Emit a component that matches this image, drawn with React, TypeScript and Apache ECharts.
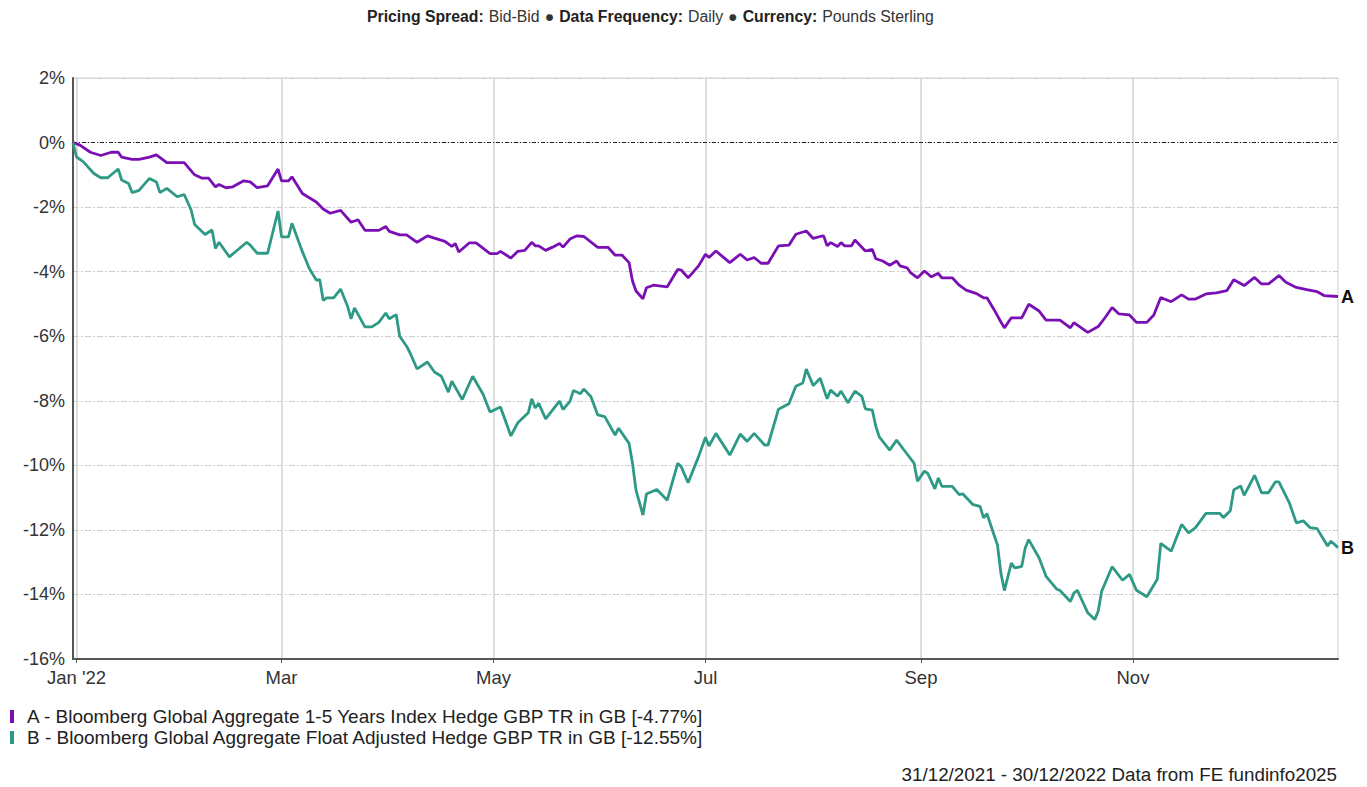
import React, { useEffect, useRef } from "react";
import * as echarts from "echarts";

// Day offsets counted from 31/12/2021, cumulative performance in %
const seriesAName = "A - Bloomberg Global Aggregate 1-5 Years Index Hedge GBP TR in GB [-4.77%]";
const seriesBName = "B - Bloomberg Global Aggregate Float Adjusted Hedge GBP TR in GB [-12.55%]";

const seriesA: Array<[number, number]> = [
  [0, 0], [2, -0.08], [5, -0.3], [8, -0.4], [11, -0.3], [13, -0.3], [14, -0.45], [17, -0.52], [19, -0.52],
  [22, -0.45], [24, -0.38], [27, -0.62], [32, -0.62], [35, -1.0], [37, -1.1], [39, -1.1], [41, -1.37],
  [42, -1.3], [44, -1.4], [46, -1.37], [49, -1.19], [51, -1.22], [53, -1.4], [56, -1.34], [59, -0.82],
  [60, -1.19], [62, -1.19], [63, -1.06], [66, -1.58], [70, -1.84], [72, -2.06], [74, -2.19], [77, -2.1],
  [80, -2.47], [82, -2.39], [84, -2.72], [88, -2.72], [90, -2.6], [91, -2.75], [94, -2.86], [96, -2.86],
  [99, -3.09], [102, -2.89], [104, -2.96], [107, -3.06], [109, -3.22], [110, -3.13], [111, -3.39],
  [114, -3.11], [116, -3.11], [120, -3.44], [122, -3.44], [123, -3.37], [126, -3.58], [128, -3.37],
  [130, -3.34], [132, -3.09], [133, -3.2], [134, -3.2], [136, -3.34], [138, -3.24], [140, -3.13],
  [141, -3.24], [143, -2.99], [145, -2.89], [147, -2.91], [151, -3.25], [154, -3.25], [156, -3.49],
  [158, -3.49], [160, -3.72], [161, -4.29], [162, -4.6], [164, -4.84], [165, -4.5], [167, -4.42],
  [171, -4.47], [174, -3.93], [175, -3.95], [177, -4.19], [180, -3.82], [182, -3.46], [183, -3.56],
  [185, -3.36], [189, -3.72], [192, -3.46], [194, -3.64], [196, -3.56], [198, -3.74], [200, -3.74],
  [203, -3.2], [206, -3.18], [208, -2.84], [211, -2.74], [213, -2.97], [215, -2.91], [216, -2.89],
  [217, -3.2], [218, -3.1], [220, -3.22], [221, -3.1], [222, -3.2], [224, -3.2], [225, -3.02],
  [228, -3.36], [230, -3.31], [231, -3.6], [233, -3.67], [235, -3.8], [237, -3.67], [238, -3.82],
  [240, -3.88], [241, -4.03], [243, -4.19], [245, -3.98], [247, -4.16], [249, -4.05], [250, -4.19],
  [253, -4.19], [255, -4.42], [257, -4.57], [260, -4.68], [262, -4.81], [263, -4.81], [265, -5.17],
  [267, -5.56], [268, -5.74], [270, -5.43], [273, -5.43], [275, -5.01], [278, -5.22], [280, -5.5],
  [284, -5.5], [287, -5.74], [288, -5.58], [292, -5.88], [295, -5.7], [297, -5.42], [299, -5.11],
  [301, -5.31], [304, -5.34], [306, -5.57], [309, -5.57], [311, -5.34], [313, -4.8], [316, -4.93],
  [319, -4.72], [321, -4.85], [323, -4.85], [326, -4.69], [329, -4.66], [332, -4.59], [334, -4.25],
  [337, -4.43], [340, -4.18], [342, -4.38], [344, -4.38], [347, -4.12], [349, -4.33], [352, -4.49],
  [355, -4.56], [358, -4.62], [360, -4.74], [364, -4.77],
];

const seriesB: Array<[number, number]> = [
  [0, 0], [1, -0.44], [3, -0.6], [6, -0.96], [8, -1.09], [10, -1.09], [13, -0.82], [14, -1.16], [16, -1.27],
  [17, -1.55], [19, -1.48], [22, -1.11], [24, -1.22], [25, -1.55], [27, -1.42], [30, -1.68], [32, -1.61],
  [34, -2.09], [35, -2.54], [38, -2.85], [40, -2.71], [41, -3.28], [42, -3.09], [45, -3.54], [50, -3.09],
  [51, -3.18], [53, -3.43], [56, -3.43], [59, -2.12], [60, -2.92], [62, -2.92], [63, -2.5], [66, -3.38],
  [68, -3.9], [70, -4.26], [71, -4.25], [72, -4.89], [73, -4.81], [75, -4.81], [77, -4.54], [79, -5.07],
  [80, -5.46], [81, -5.12], [84, -5.71], [86, -5.71], [88, -5.57], [90, -5.28], [91, -5.46], [93, -5.33],
  [94, -6.0], [96, -6.31], [97, -6.52], [99, -7.01], [102, -6.8], [104, -7.11], [106, -7.24], [108, -7.73],
  [109, -7.39], [112, -7.96], [115, -7.24], [118, -7.8], [120, -8.35], [123, -8.19], [126, -9.09],
  [128, -8.68], [131, -8.37], [132, -7.94], [133, -8.22], [134, -8.08], [136, -8.56], [140, -8.01],
  [141, -8.27], [143, -8.02], [144, -7.68], [146, -7.78], [147, -7.64], [149, -7.87], [151, -8.44],
  [153, -8.49], [156, -9.06], [157, -8.85], [160, -9.32], [161, -9.94], [162, -10.77], [164, -11.54],
  [165, -10.89], [168, -10.75], [171, -11.08], [174, -9.94], [175, -10.04], [177, -10.54], [180, -9.73],
  [182, -9.13], [183, -9.4], [185, -9.01], [189, -9.68], [192, -9.03], [194, -9.26], [196, -9.01],
  [199, -9.37], [200, -9.37], [203, -8.26], [206, -8.09], [208, -7.55], [210, -7.45], [211, -7.02],
  [213, -7.53], [215, -7.3], [217, -7.94], [218, -7.67], [220, -7.86], [221, -7.7], [223, -8.06],
  [225, -7.7], [227, -7.86], [228, -8.25], [230, -8.29], [231, -8.79], [232, -9.12], [235, -9.53],
  [237, -9.22], [239, -9.51], [242, -9.93], [243, -10.49], [245, -10.18], [246, -10.26], [248, -10.73],
  [249, -10.39], [250, -10.65], [253, -10.65], [255, -10.91], [256, -10.88], [259, -11.22], [261, -11.27],
  [262, -11.63], [263, -11.5], [265, -12.15], [266, -12.46], [267, -13.34], [268, -13.88], [270, -13.03],
  [271, -13.18], [273, -13.13], [274, -12.56], [275, -12.3], [278, -12.87], [280, -13.44], [283, -13.83],
  [284, -13.88], [287, -14.22], [288, -13.96], [289, -13.87], [292, -14.57], [294, -14.78], [295, -14.52],
  [296, -13.9], [299, -13.14], [302, -13.56], [304, -13.38], [306, -13.87], [309, -14.07], [312, -13.53],
  [313, -12.42], [316, -12.66], [319, -11.83], [321, -12.09], [323, -11.93], [326, -11.49], [330, -11.49],
  [331, -11.62], [333, -11.41], [334, -10.76], [336, -10.64], [337, -10.93], [340, -10.31], [342, -10.85],
  [344, -10.85], [346, -10.51], [347, -10.51], [350, -11.16], [352, -11.78], [354, -11.72], [356, -11.93],
  [358, -11.96], [361, -12.5], [362, -12.35], [364, -12.55],
];

const tickDates = ["2022-01-01", "2022-03-01", "2022-05-01", "2022-07-01", "2022-09-01", "2022-11-01"];
const tickLabels = ["Jan '22", "Mar", "May", "Jul", "Sep", "Nov"];
const startDate = "2021-12-31";
const endDate = "2022-12-30";
const yTicks = { min: -16, max: 2, interval: 2 };

const titleParts = [
  ["Pricing Spread:", "Bid-Bid"],
  ["Data Frequency:", "Daily"],
  ["Currency:", "Pounds Sterling"],
];
const footerText = "31/12/2021 - 30/12/2022 Data from FE fundinfo2025";

const colorA = "#7a0fb4";
const colorB = "#2e9a86";
const FONT = 'Arial, "Liberation Sans", sans-serif';

const toTs = (s: string) => {
  const [y, m, d] = s.split("-").map(Number);
  return Date.UTC(y, m - 1, d);
};
const DAY = 86400000;

export default function App() {
  const ref = useRef<HTMLDivElement>(null);

  useEffect(() => {
    if (!ref.current) return;
    const chart = echarts.init(ref.current, undefined, { renderer: "svg" });
    const start = toTs(startDate);
    const dayOf = (s: string) => Math.round((toTs(s) - start) / DAY);
    const tickDays = tickDates.map(dayOf);

    const titleText = titleParts
      .map(([k, v]) => `{b|${k}} {n|${v}}`)
      .join(" {n|●} ");

    chart.setOption({
      animation: false,
      backgroundColor: "#ffffff",
      title: {
        text: titleText,
        left: 362,
        top: 2,
        textStyle: {
          fontWeight: "normal",
          rich: {
            b: { fontFamily: FONT, fontSize: 15.8, fontWeight: "bold", color: "#222" },
            n: { fontFamily: FONT, fontSize: 15.8, fontWeight: "normal", color: "#333" },
          },
        },
      },
      grid: {
        left: 73,
        right: 29,
        top: 78,
        bottom: 128,
        show: true,
        borderColor: "#d0d0d0",
        borderWidth: 1,
      },
      legend: {
        orient: "vertical",
        left: 5,
        top: 702,
        itemWidth: 4,
        itemHeight: 13,
        itemGap: 2,
        icon: "rect",
        data: [seriesAName, seriesBName],
        textStyle: {
          fontFamily: FONT,
          fontSize: 19,
          color: "#222",
          lineHeight: 19,
          padding: [0, 0, 0, 8],
        },
      },
      xAxis: {
        type: "value",
        min: 0,
        max: dayOf(endDate),
        axisLine: { show: true, onZero: false, lineStyle: { color: "#555", width: 2 } },
        axisTick: { show: true, customValues: tickDays, length: 4, lineStyle: { color: "#555" } },
        axisLabel: {
          customValues: tickDays,
          fontFamily: FONT,
          fontSize: 18.5,
          color: "#333",
          margin: 9,
          formatter: (v: number) => {
            const i = tickDays.indexOf(Math.round(v));
            return i >= 0 ? tickLabels[i] : "";
          },
        },
        splitLine: { show: true, lineStyle: { color: "#d3d3d3", width: 1.5, type: "solid" } },
      },
      yAxis: {
        type: "value",
        min: yTicks.min,
        max: yTicks.max,
        interval: yTicks.interval,
        axisLine: { show: true, lineStyle: { color: "#555", width: 2 } },
        axisTick: { show: false },
        axisLabel: {
          fontFamily: FONT,
          fontSize: 18,
          color: "#333",
          margin: 8,
          formatter: "{value}%",
        },
        splitLine: { show: true, lineStyle: { color: "#cfcfcf", width: 1, type: [6, 2, 2, 2] } },
      },
      series: [
        {
          name: seriesAName,
          type: "line",
          data: seriesA,
          showSymbol: false,
          symbol: "none",
          itemStyle: { color: colorA },
          lineStyle: { color: colorA, width: 2.8 },
          z: 3,
          endLabel: {
            show: true,
            formatter: "A",
            fontFamily: FONT,
            fontSize: 18,
            fontWeight: "bold",
            color: "#111",
            distance: 3,
          },
          markLine: {
            silent: true,
            symbol: "none",
            label: { show: false },
            lineStyle: { color: "#222", width: 1, type: [4, 2, 1, 2] },
            data: [{ yAxis: 0 }],
            z: 1,
          },
        },
        {
          name: seriesBName,
          type: "line",
          data: seriesB,
          showSymbol: false,
          symbol: "none",
          itemStyle: { color: colorB },
          lineStyle: { color: colorB, width: 2.8 },
          z: 3,
          endLabel: {
            show: true,
            formatter: "B",
            fontFamily: FONT,
            fontSize: 18,
            fontWeight: "bold",
            color: "#111",
            distance: 3,
          },
        },
      ],
      graphic: [
        {
          type: "text",
          right: 30,
          top: 765,
          style: {
            text: footerText,
            fontFamily: FONT,
            fontSize: 18.8,
            fill: "#222",
          },
        },
      ],
    });

    return () => chart.dispose();
  }, []);

  return (
    <div
      ref={ref}
      style={{ position: "fixed", left: 0, top: 0, width: 1367, height: 787, background: "#fff" }}
    />
  );
}
